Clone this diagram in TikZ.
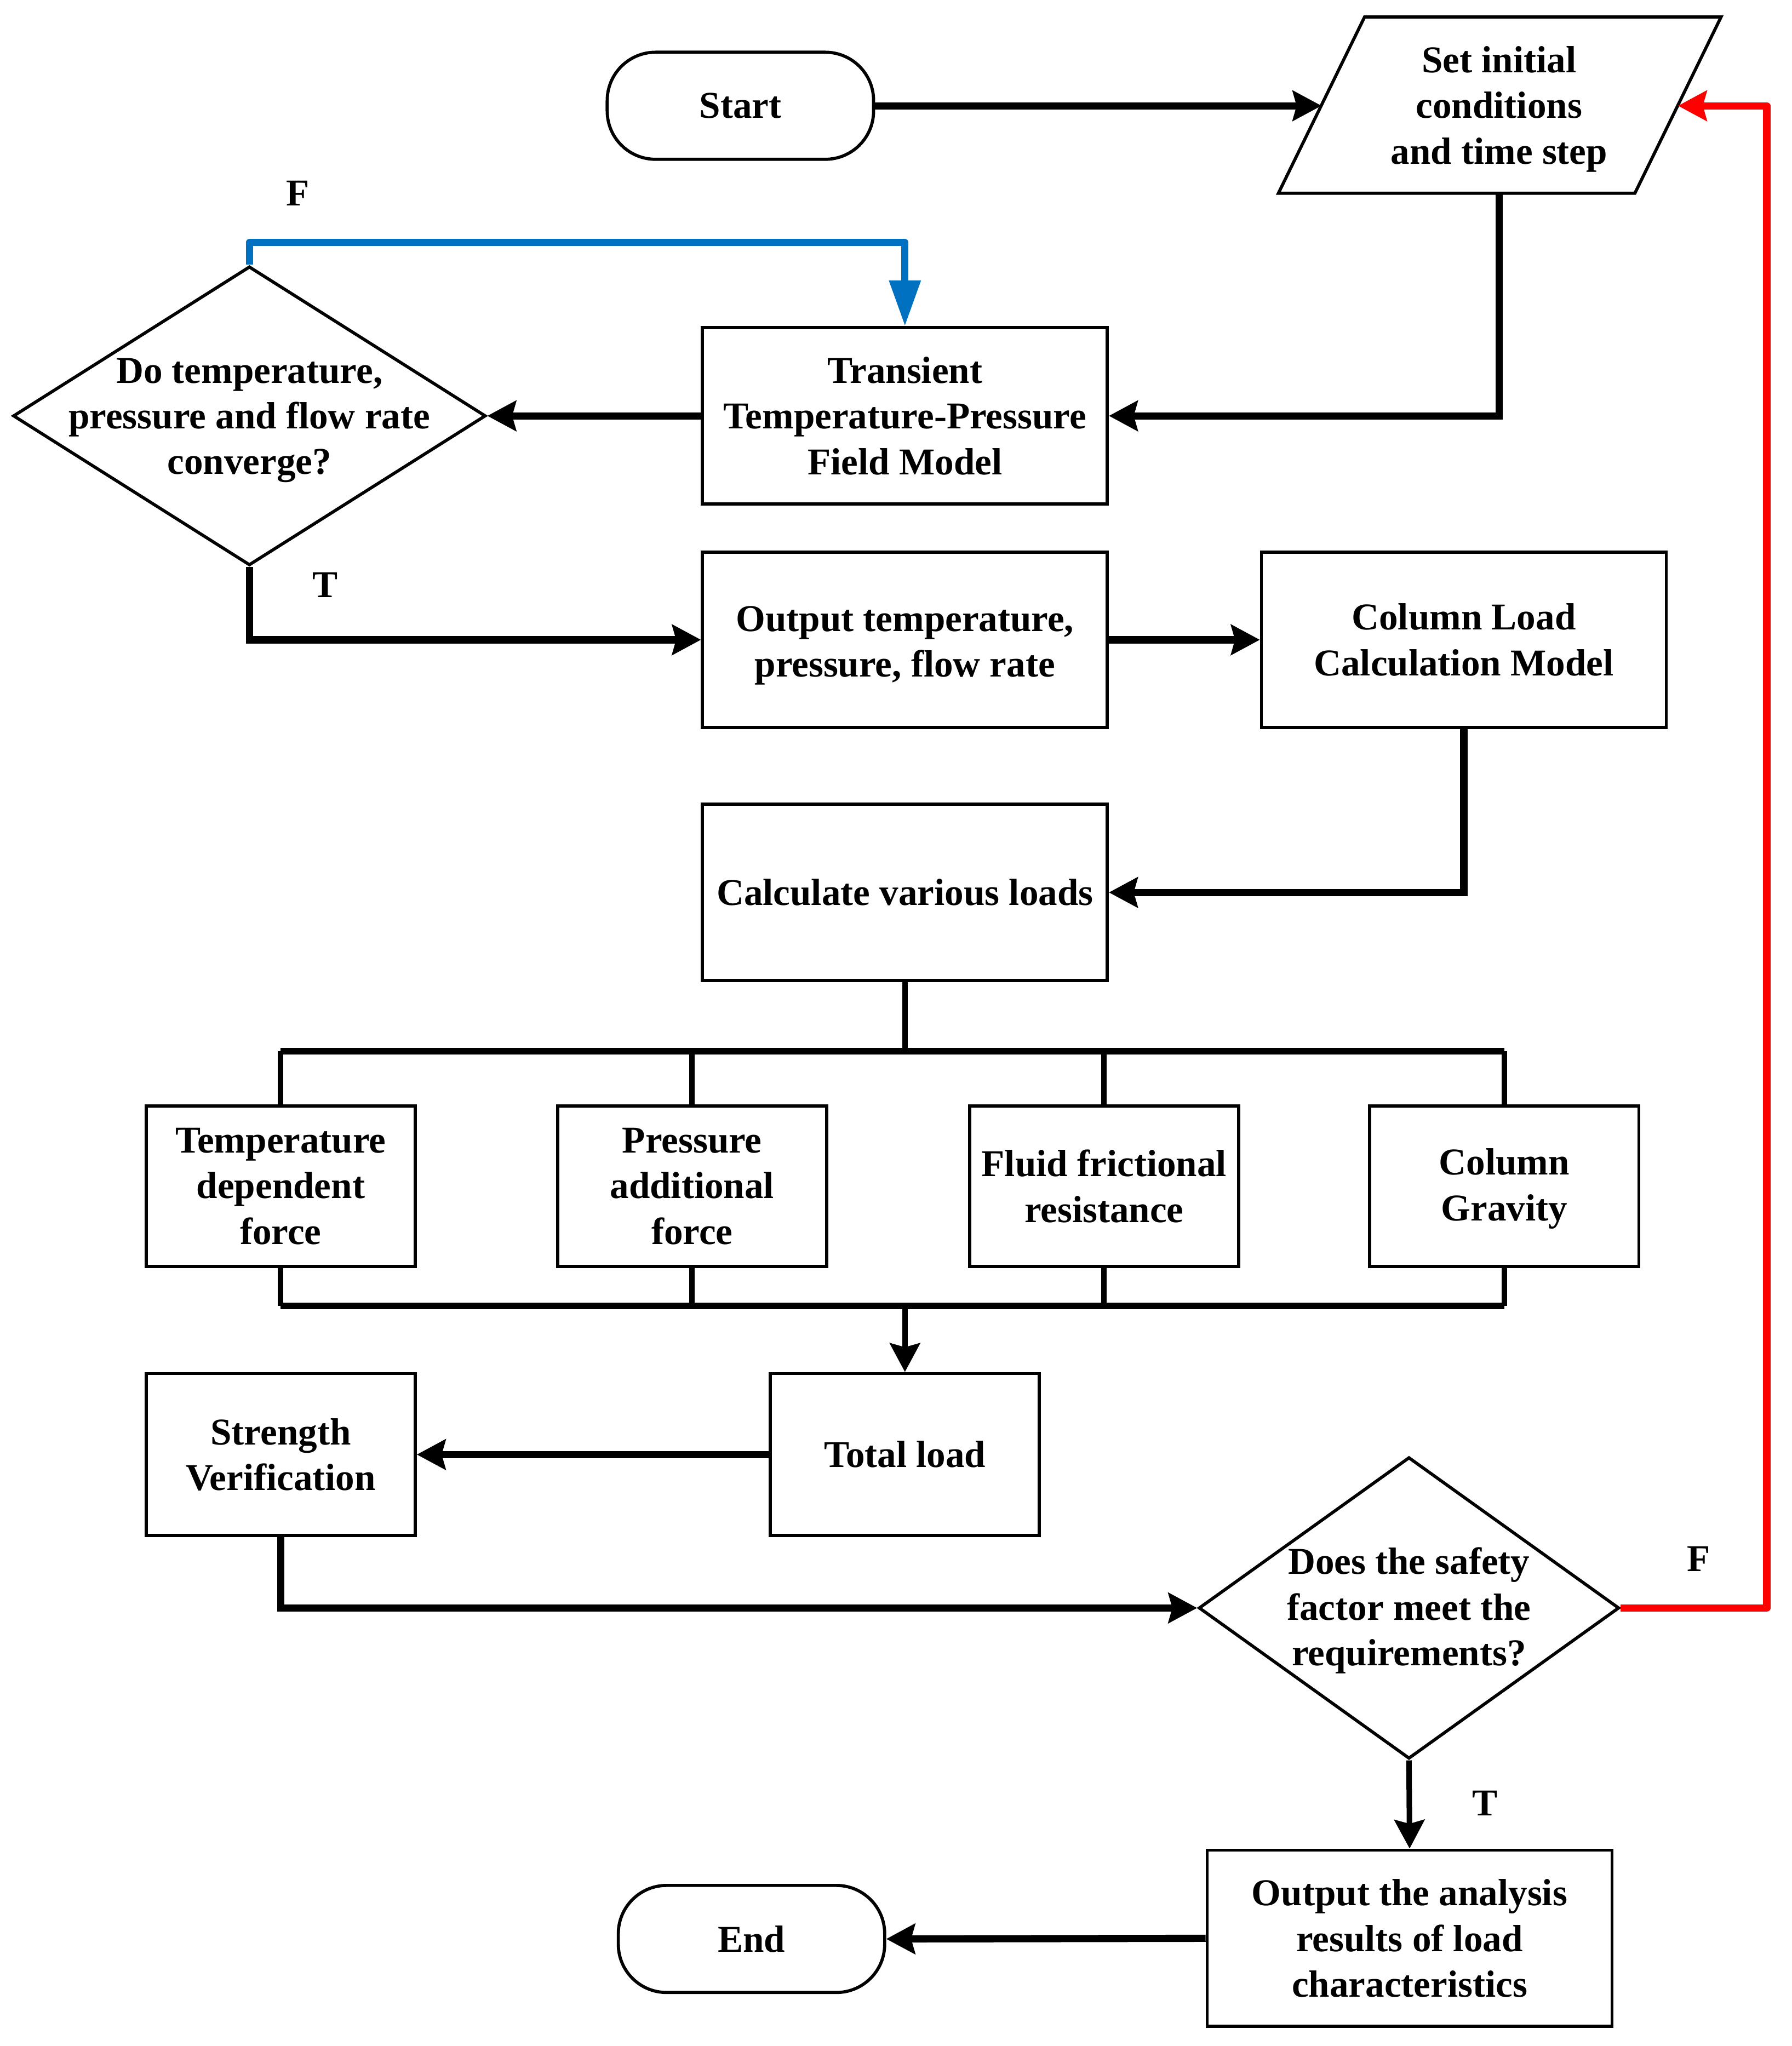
\documentclass[tikz,border=0pt]{standalone}
\usepackage{fontspec}
\setmainfont{Liberation Serif}
\usetikzlibrary{arrows.meta,shapes.geometric}
\definecolor{fblue}{RGB}{0,112,192}
\definecolor{fred}{RGB}{255,0,0}
\begin{document}
\begin{tikzpicture}[x=1pt,y=-1pt,
  every node/.style={font=\fontsize{29}{35}\selectfont\bfseries, align=center, inner sep=0pt},
  box/.style={draw, line width=2.4pt, minimum width=310pt, minimum height=135pt},
  sbox/.style={draw, line width=2.4pt, minimum width=206pt, minimum height=123pt},
  term/.style={draw, line width=2.4pt, rounded corners=37pt, minimum width=204pt, minimum height=82pt},
  dia/.style={draw, line width=2.4pt, shape=diamond},
  tip/.style={-{Stealth[length=22pt,width=23pt,inset=3pt]}},
  conn/.style={line width=5.5pt, tip},
  thinconn/.style={line width=4.2pt, tip},
  bus/.style={line width=5pt},
  branch/.style={line width=4.2pt},
  lbl/.style={font=\fontsize{29}{35}\selectfont\bfseries}
]
\fill[white] (0,0) rectangle (1372,1567);

% shapes
\node[term] (start) at (567,81) {Start};
\draw[line width=2.4pt, line join=miter] (1045,13) -- (1318,13) -- (1252,148) -- (979,148) -- cycle;
\node (setp) at (1148,83.5) {Set initial\\conditions\\and time step};
\coordinate (setL) at (1012,81);
\coordinate (setR) at (1285,81);
\coordinate (setB) at (1148,148);

\node[box] (trans) at (693,318.5) {Transient\\Temperature-Pressure\\Field Model};
\node[dia, minimum width=362pt, minimum height=229pt] (d1) at (191,318.5) {};
\node (d1t) at (191,322) {Do temperature,\\pressure and flow rate\\converge?};

\node[box, minimum height=134pt] (out1) at (693,490) {\rule{0pt}{28pt}Output temperature,\\pressure, flow rate};
\node[box, minimum height=134pt] (col) at (1121,490) {Column Load\\Calculation Model};
\node[box] (calc) at (693,683.5) {Calculate various loads};

\node[sbox] (b1) at (215,908.5) {Temperature\\dependent\\force};
\node[sbox] (b2) at (530,908.5) {Pressure\\additional\\force};
\node[sbox] (b3) at (845.5,908.5) {Fluid frictional\\resistance};
\node[sbox] (b4) at (1152,908.5) {\rule{0pt}{24pt}Column\\Gravity};

\node[sbox, minimum height=124pt] (total) at (693,1114) {Total load};
\node[sbox, minimum height=124pt] (str) at (215,1114) {Strength\\Verification};

\node[dia, minimum width=322pt, minimum height=231pt] (d2) at (1079,1231.5) {};
\node (d2t) at (1079,1233.5) {Does the safety\\factor meet the\\requirements?};

\node[box] (outA) at (1079.5,1484.5) {Output the analysis\\results of load\\characteristics};
\node[term] (endn) at (575.5,1485) {End};

% labels
\node[lbl] (lf1) at (228,148) {F};
\node[lbl] (lt1) at (249,448) {T};
\node[lbl] (lf2) at (1301,1194) {F};
\node[lbl] (lt2) at (1137,1381) {T};

% connectors
\draw[conn] (start.east) -- (setL);
\draw[conn] (setB) |- (trans.east);
\draw[conn] (trans.west) -- (d1.east);
\draw[conn] (d1.south) |- (out1.west);
\draw[line width=5.5pt, fblue, line join=round, -{Triangle[length=35pt,width=23pt]}]
  (d1.north) -- ++(0,-17) -| (trans.north);
\draw[conn] (out1.east) -- (col.west);
\draw[conn] (col.south) |- (calc.east);

\coordinate (busT) at (693,805);
\coordinate (busB) at (693,1000);
\draw[branch] (calc.south) -- (busT);
\draw[bus] (b1.north |- busT) -- (b4.north |- busT);
\foreach \b in {b1,b2,b3,b4} {
  \draw[branch] (\b.north) -- (\b.north |- busT);
  \draw[branch] (\b.south) -- (\b.south |- busB);
}
\draw[bus] (b1.south |- busB) -- (b4.south |- busB);
\draw[thinconn] (busB) -- (total.north);

\draw[conn] (total.west) -- (str.east);
\draw[conn] (str.south) |- (d2.west);

\coordinate (redc) at (1353,81);
\draw[line width=5.5pt, fred, line join=round, tip] (d2.east) -| (redc) -- (setR);

\draw[thinconn] (d2.south) -- (outA.north);
\draw[conn] (outA.west) -- (endn.east);
\end{tikzpicture}
\end{document}
